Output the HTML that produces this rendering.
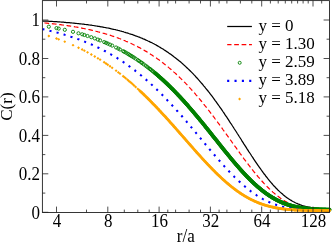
<!DOCTYPE html>
<html><head><meta charset="utf-8"><title>C(r)</title>
<style>html,body{margin:0;padding:0;background:#fff}body{width:332px;height:243px;overflow:hidden}svg{display:block}svg{will-change:transform}text{font-family:"Liberation Serif",serif;font-size:17px;fill:#000}</style></head><body>
<svg width="332" height="243" viewBox="0 0 332 243">
<rect width="332" height="243" fill="#fff"/>
<path d="M42.4,20.9 L43.4,21.0 L44.3,21.0 L45.3,21.1 L46.2,21.1 L47.2,21.2 L48.2,21.2 L49.1,21.3 L50.1,21.3 L51.0,21.4 L52.0,21.4 L53.0,21.5 L53.9,21.6 L54.9,21.6 L55.8,21.7 L56.8,21.7 L57.8,21.8 L58.7,21.9 L59.7,21.9 L60.6,22.0 L61.6,22.1 L62.6,22.2 L63.5,22.2 L64.5,22.3 L65.4,22.4 L66.4,22.5 L67.4,22.5 L68.3,22.6 L69.3,22.7 L70.2,22.8 L71.2,22.9 L72.2,23.0 L73.1,23.1 L74.1,23.2 L75.0,23.3 L76.0,23.4 L77.0,23.5 L77.9,23.6 L78.9,23.7 L79.8,23.8 L80.8,23.9 L81.8,24.0 L82.7,24.1 L83.7,24.2 L84.6,24.3 L85.6,24.5 L86.6,24.6 L87.5,24.7 L88.5,24.8 L89.4,25.0 L90.4,25.1 L91.4,25.2 L92.3,25.4 L93.3,25.5 L94.3,25.7 L95.2,25.8 L96.2,26.0 L97.1,26.1 L98.1,26.3 L99.1,26.4 L100.0,26.6 L101.0,26.8 L101.9,26.9 L102.9,27.1 L103.9,27.3 L104.8,27.5 L105.8,27.7 L106.7,27.8 L107.7,28.0 L108.7,28.2 L109.6,28.4 L110.6,28.6 L111.5,28.9 L112.5,29.1 L113.5,29.3 L114.4,29.5 L115.4,29.7 L116.3,30.0 L117.3,30.2 L118.3,30.5 L119.2,30.7 L120.2,31.0 L121.1,31.2 L122.1,31.5 L123.1,31.7 L124.0,32.0 L125.0,32.3 L125.9,32.6 L126.9,32.9 L127.9,33.2 L128.8,33.5 L129.8,33.8 L130.7,34.1 L131.7,34.4 L132.7,34.7 L133.6,35.1 L134.6,35.4 L135.5,35.8 L136.5,36.1 L137.5,36.5 L138.4,36.9 L139.4,37.2 L140.3,37.6 L141.3,38.0 L142.3,38.4 L143.2,38.8 L144.2,39.2 L145.1,39.6 L146.1,40.1 L147.1,40.5 L148.0,41.0 L149.0,41.4 L149.9,41.9 L150.9,42.3 L151.9,42.8 L152.8,43.3 L153.8,43.8 L154.7,44.3 L155.7,44.8 L156.7,45.4 L157.6,45.9 L158.6,46.5 L159.5,47.0 L160.5,47.6 L161.5,48.2 L162.4,48.7 L163.4,49.3 L164.3,50.0 L165.3,50.6 L166.3,51.2 L167.2,51.9 L168.2,52.5 L169.1,53.2 L170.1,53.9 L171.1,54.5 L172.0,55.2 L173.0,56.0 L173.9,56.7 L174.9,57.4 L175.9,58.2 L176.8,58.9 L177.8,59.7 L178.7,60.5 L179.7,61.3 L180.7,62.1 L181.6,62.9 L182.6,63.8 L183.5,64.6 L184.5,65.5 L185.5,66.4 L186.4,67.3 L187.4,68.2 L188.4,69.1 L189.3,70.0 L190.3,71.0 L191.2,71.9 L192.2,72.9 L193.2,73.9 L194.1,74.9 L195.1,75.9 L196.0,77.0 L197.0,78.0 L198.0,79.1 L198.9,80.2 L199.9,81.3 L200.8,82.4 L201.8,83.5 L202.8,84.6 L203.7,85.8 L204.7,86.9 L205.6,88.1 L206.6,89.3 L207.6,90.5 L208.5,91.7 L209.5,92.9 L210.4,94.2 L211.4,95.4 L212.4,96.7 L213.3,98.0 L214.3,99.3 L215.2,100.6 L216.2,101.9 L217.2,103.3 L218.1,104.6 L219.1,106.0 L220.0,107.3 L221.0,108.7 L222.0,110.1 L222.9,111.5 L223.9,112.9 L224.8,114.4 L225.8,115.8 L226.8,117.2 L227.7,118.7 L228.7,120.1 L229.6,121.6 L230.6,123.1 L231.6,124.5 L232.5,126.0 L233.5,127.5 L234.4,129.0 L235.4,130.5 L236.4,132.0 L237.3,133.5 L238.3,135.0 L239.2,136.5 L240.2,138.0 L241.2,139.5 L242.1,141.1 L243.1,142.6 L244.0,144.1 L245.0,145.6 L246.0,147.1 L246.9,148.6 L247.9,150.1 L248.8,151.6 L249.8,153.0 L250.8,154.5 L251.7,156.0 L252.7,157.4 L253.6,158.9 L254.6,160.3 L255.6,161.8 L256.5,163.2 L257.5,164.6 L258.4,166.0 L259.4,167.3 L260.4,168.7 L261.3,170.0 L262.3,171.4 L263.2,172.7 L264.2,174.0 L265.2,175.2 L266.1,176.5 L267.1,177.7 L268.0,178.9 L269.0,180.1 L270.0,181.3 L270.9,182.4 L271.9,183.5 L272.8,184.6 L273.8,185.7 L274.8,186.7 L275.7,187.7 L276.7,188.7 L277.6,189.7 L278.6,190.6 L279.6,191.6 L280.5,192.4 L281.5,193.3 L282.5,194.1 L283.4,194.9 L284.4,195.7 L285.3,196.5 L286.3,197.2 L287.3,197.9 L288.2,198.6 L289.2,199.2 L290.1,199.8 L291.1,200.4 L292.1,201.0 L293.0,201.5 L294.0,202.0 L294.9,202.5 L295.9,203.0 L296.9,203.4 L297.8,203.8 L298.8,204.2 L299.7,204.6 L300.7,204.9 L301.7,205.3 L302.6,205.6 L303.6,205.9 L304.5,206.1 L305.5,206.4 L306.5,206.6 L307.4,206.8 L308.4,207.0 L309.3,207.2 L310.3,207.4 L311.3,207.6 L312.2,207.7 L313.2,207.8 L314.1,208.0 L315.1,208.1 L316.1,208.2 L317.0,208.3 L318.0,208.4 L318.9,208.4 L319.9,208.5 L320.9,208.6 L321.8,208.6 L322.8,208.7 L323.7,208.7 L324.7,208.8 L325.7,208.8 L326.6,208.8 L327.6,208.8 L328.5,208.9 L329.5,208.9" fill="none" stroke="#000" stroke-width="1.25"/>
<path d="M42.4,22.7 L43.4,22.8 L44.3,22.9 L45.3,23.0 L46.2,23.1 L47.2,23.2 L48.2,23.3 L49.1,23.4 L50.1,23.5 L51.0,23.6 L52.0,23.7 L53.0,23.8 L53.9,23.9 L54.9,24.0 L55.8,24.1 L56.8,24.2 L57.8,24.3 L58.7,24.5 L59.7,24.6 L60.6,24.7 L61.6,24.8 L62.6,25.0 L63.5,25.1 L64.5,25.2 L65.4,25.4 L66.4,25.5 L67.4,25.6 L68.3,25.8 L69.3,25.9 L70.2,26.1 L71.2,26.2 L72.2,26.4 L73.1,26.5 L74.1,26.7 L75.0,26.9 L76.0,27.0 L77.0,27.2 L77.9,27.4 L78.9,27.5 L79.8,27.7 L80.8,27.9 L81.8,28.1 L82.7,28.3 L83.7,28.5 L84.6,28.7 L85.6,28.8 L86.6,29.0 L87.5,29.3 L88.5,29.5 L89.4,29.7 L90.4,29.9 L91.4,30.1 L92.3,30.3 L93.3,30.6 L94.3,30.8 L95.2,31.0 L96.2,31.3 L97.1,31.5 L98.1,31.8 L99.1,32.0 L100.0,32.3 L101.0,32.5 L101.9,32.8 L102.9,33.1 L103.9,33.3 L104.8,33.6 L105.8,33.9 L106.7,34.2 L107.7,34.5 L108.7,34.8 L109.6,35.1 L110.6,35.4 L111.5,35.7 L112.5,36.1 L113.5,36.4 L114.4,36.7 L115.4,37.1 L116.3,37.4 L117.3,37.7 L118.3,38.1 L119.2,38.5 L120.2,38.8 L121.1,39.2 L122.1,39.6 L123.1,40.0 L124.0,40.4 L125.0,40.8 L125.9,41.2 L126.9,41.6 L127.9,42.0 L128.8,42.4 L129.8,42.9 L130.7,43.3 L131.7,43.8 L132.7,44.2 L133.6,44.7 L134.6,45.2 L135.5,45.6 L136.5,46.1 L137.5,46.6 L138.4,47.1 L139.4,47.6 L140.3,48.1 L141.3,48.7 L142.3,49.2 L143.2,49.7 L144.2,50.3 L145.1,50.9 L146.1,51.4 L147.1,52.0 L148.0,52.6 L149.0,53.2 L149.9,53.8 L150.9,54.4 L151.9,55.0 L152.8,55.7 L153.8,56.3 L154.7,56.9 L155.7,57.6 L156.7,58.3 L157.6,59.0 L158.6,59.6 L159.5,60.3 L160.5,61.1 L161.5,61.8 L162.4,62.5 L163.4,63.2 L164.3,64.0 L165.3,64.8 L166.3,65.5 L167.2,66.3 L168.2,67.1 L169.1,67.9 L170.1,68.7 L171.1,69.5 L172.0,70.4 L173.0,71.2 L173.9,72.1 L174.9,72.9 L175.9,73.8 L176.8,74.7 L177.8,75.6 L178.7,76.5 L179.7,77.5 L180.7,78.4 L181.6,79.3 L182.6,80.3 L183.5,81.3 L184.5,82.2 L185.5,83.2 L186.4,84.2 L187.4,85.2 L188.4,86.3 L189.3,87.3 L190.3,88.3 L191.2,89.4 L192.2,90.5 L193.2,91.5 L194.1,92.6 L195.1,93.7 L196.0,94.8 L197.0,95.9 L198.0,97.1 L198.9,98.2 L199.9,99.4 L200.8,100.5 L201.8,101.7 L202.8,102.9 L203.7,104.1 L204.7,105.3 L205.6,106.5 L206.6,107.7 L207.6,108.9 L208.5,110.1 L209.5,111.4 L210.4,112.6 L211.4,113.9 L212.4,115.1 L213.3,116.4 L214.3,117.7 L215.2,119.0 L216.2,120.3 L217.2,121.6 L218.1,122.9 L219.1,124.2 L220.0,125.5 L221.0,126.8 L222.0,128.1 L222.9,129.5 L223.9,130.8 L224.8,132.1 L225.8,133.5 L226.8,134.8 L227.7,136.1 L228.7,137.5 L229.6,138.8 L230.6,140.2 L231.6,141.5 L232.5,142.9 L233.5,144.2 L234.4,145.6 L235.4,146.9 L236.4,148.2 L237.3,149.6 L238.3,150.9 L239.2,152.2 L240.2,153.6 L241.2,154.9 L242.1,156.2 L243.1,157.5 L244.0,158.8 L245.0,160.1 L246.0,161.4 L246.9,162.6 L247.9,163.9 L248.8,165.2 L249.8,166.4 L250.8,167.7 L251.7,168.9 L252.7,170.1 L253.6,171.3 L254.6,172.5 L255.6,173.7 L256.5,174.8 L257.5,176.0 L258.4,177.1 L259.4,178.2 L260.4,179.3 L261.3,180.4 L262.3,181.5 L263.2,182.5 L264.2,183.6 L265.2,184.6 L266.1,185.6 L267.1,186.6 L268.0,187.5 L269.0,188.5 L270.0,189.4 L270.9,190.3 L271.9,191.2 L272.8,192.1 L273.8,192.9 L274.8,193.7 L275.7,194.5 L276.7,195.3 L277.6,196.1 L278.6,196.8 L279.6,197.5 L280.5,198.2 L281.5,198.9 L282.5,199.5 L283.4,200.2 L284.4,200.8 L285.3,201.4 L286.3,201.9 L287.3,202.5 L288.2,203.0 L289.2,203.5 L290.1,204.0 L291.1,204.5 L292.1,204.9 L293.0,205.3 L294.0,205.7 L294.9,206.1 L295.9,206.5 L296.9,206.9 L297.8,207.2 L298.8,207.5 L299.7,207.8 L300.7,208.1 L301.7,208.4 L302.6,208.6 L303.6,208.9 L304.5,209.1 L305.5,209.3 L306.5,209.5 L307.4,209.7 L308.4,209.9 L309.3,210.1 L310.3,210.2 L311.3,210.4 L312.2,210.5 L313.2,210.6 L314.1,210.7 L315.1,210.8 L316.1,210.9 L317.0,211.0 L318.0,211.1 L318.9,211.2 L319.9,211.3 L320.9,211.3 L321.8,211.4 L322.8,211.4 L323.7,211.5 L324.7,211.5 L325.7,211.6 L326.6,211.6 L327.6,211.6 L328.5,211.7 L329.5,211.7" fill="none" stroke="#f00" stroke-width="1.2" stroke-dasharray="4.7 2.7" stroke-dashoffset="5.3"/>
<path d="M155.0,73.1 L155.6,73.5 L156.2,74.0 L156.8,74.5 L157.3,75.0 L157.9,75.5 L158.5,76.0 L159.1,76.5 L159.7,77.1 L160.3,77.6 L160.8,78.1 L161.4,78.6 L162.0,79.1 L162.6,79.7 L163.2,80.2 L163.8,80.7 L164.3,81.3 L164.9,81.8 L165.5,82.4 L166.1,82.9 L166.7,83.5 L167.3,84.0 L167.8,84.6 L168.4,85.1 L169.0,85.7 L169.6,86.3 L170.2,86.8 L170.8,87.4 L171.3,88.0 L171.9,88.6 L172.5,89.2 L173.1,89.7 L173.7,90.3 L174.3,90.9 L174.8,91.5 L175.4,92.1 L176.0,92.7 L176.6,93.3 L177.2,93.9 L177.8,94.6 L178.3,95.2 L178.9,95.8 L179.5,96.4 L180.1,97.0 L180.7,97.7 L181.3,98.3 L181.8,98.9 L182.4,99.6 L183.0,100.2 L183.6,100.8 L184.2,101.5 L184.8,102.1 L185.3,102.8 L185.9,103.4 L186.5,104.1 L187.1,104.8 L187.7,105.4 L188.3,106.1 L188.8,106.8 L189.4,107.4 L190.0,108.1 L190.6,108.8 L191.2,109.4 L191.8,110.1 L192.4,110.8 L192.9,111.5 L193.5,112.2 L194.1,112.9 L194.7,113.6 L195.3,114.3 L195.9,115.0 L196.4,115.6 L197.0,116.3 L197.6,117.1 L198.2,117.8 L198.8,118.5 L199.4,119.2 L199.9,119.9 L200.5,120.6 L201.1,121.3 L201.7,122.0 L202.3,122.7 L202.9,123.4 L203.4,124.2 L204.0,124.9 L204.6,125.6 L205.2,126.3 L205.8,127.1 L206.4,127.8 L206.9,128.5 L207.5,129.2 L208.1,130.0 L208.7,130.7 L209.3,131.4 L209.9,132.1 L210.4,132.9 L211.0,133.6 L211.6,134.3 L212.2,135.1 L212.8,135.8 L213.4,136.5 L213.9,137.3 L214.5,138.0 L215.1,138.7 L215.7,139.5 L216.3,140.2 L216.9,140.9 L217.4,141.7 L218.0,142.4 L218.6,143.1 L219.2,143.9 L219.8,144.6 L220.4,145.3 L220.9,146.1 L221.5,146.8 L222.1,147.5 L222.7,148.3 L223.3,149.0 L223.9,149.7 L224.4,150.4 L225.0,151.2 L225.6,151.9 L226.2,152.6 L226.8,153.3 L227.4,154.0 L228.0,154.8 L228.5,155.5 L229.1,156.2 L229.7,156.9 L230.3,157.6 L230.9,158.3 L231.5,159.0 L232.0,159.7 L232.6,160.4 L233.2,161.1 L233.8,161.8 L234.4,162.5 L235.0,163.2 L235.5,163.8 L236.1,164.5 L236.7,165.2 L237.3,165.9 L237.9,166.5 L238.5,167.2 L239.0,167.9 L239.6,168.5 L240.2,169.2 L240.8,169.8 L241.4,170.5 L242.0,171.1 L242.5,171.8 L243.1,172.4 L243.7,173.1 L244.3,173.7 L244.9,174.3 L245.5,174.9 L246.0,175.5 L246.6,176.1 L247.2,176.8 L247.8,177.4 L248.4,178.0 L249.0,178.5 L249.5,179.1 L250.1,179.7 L250.7,180.3 L251.3,180.9 L251.9,181.4 L252.5,182.0 L253.0,182.5 L253.6,183.1 L254.2,183.6 L254.8,184.2 L255.4,184.7 L256.0,185.2 L256.5,185.7 L257.1,186.3 L257.7,186.8 L258.3,187.3 L258.9,187.8 L259.5,188.3 L260.1,188.7 L260.6,189.2 L261.2,189.7 L261.8,190.2 L262.4,190.6 L263.0,191.1 L263.6,191.5 L264.1,192.0 L264.7,192.4 L265.3,192.8 L265.9,193.3 L266.5,193.7 L267.1,194.1 L267.6,194.5 L268.2,194.9 L268.8,195.3 L269.4,195.7 L270.0,196.1 L270.6,196.4 L271.1,196.8 L271.7,197.2 L272.3,197.5 L272.9,197.9 L273.5,198.2 L274.1,198.5 L274.6,198.9 L275.2,199.2 L275.8,199.5 L276.4,199.8 L277.0,200.1 L277.6,200.4 L278.1,200.7 L278.7,201.0 L279.3,201.3 L279.9,201.5 L280.5,201.8 L281.1,202.1 L281.6,202.3 L282.2,202.6 L282.8,202.8 L283.4,203.0 L284.0,203.3 L284.6,203.5 L285.1,203.7 L285.7,203.9 L286.3,204.1 L286.9,204.3 L287.5,204.5 L288.1,204.7 L288.6,204.9 L289.2,205.1 L289.8,205.3 L290.4,205.5 L291.0,205.6 L291.6,205.8 L292.1,206.0 L292.7,206.1 L293.3,206.3 L293.9,206.4 L294.5,206.5 L295.1,206.7 L295.7,206.8 L296.2,206.9 L296.8,207.1 L297.4,207.2 L298.0,207.3 L298.6,207.4 L299.2,207.5 L299.7,207.6 L300.3,207.7 L300.9,207.8 L301.5,207.9 L302.1,208.0 L302.7,208.1 L303.2,208.2 L303.8,208.2 L304.4,208.3 L305.0,208.4 L305.6,208.5 L306.2,208.5 L306.7,208.6 L307.3,208.7 L307.9,208.7 L308.5,208.8 L309.1,208.8 L309.7,208.9 L310.2,208.9 L310.8,209.0 L311.4,209.0 L312.0,209.1 L312.6,209.1 L313.2,209.1 L313.7,209.2 L314.3,209.2 L314.9,209.3 L315.5,209.3 L316.1,209.3 L316.7,209.3 L317.2,209.4 L317.8,209.4 L318.4,209.4 L319.0,209.5 L319.6,209.5 L320.2,209.5 L320.7,209.5 L321.3,209.5 L321.9,209.6 L322.5,209.6 L323.1,209.6 L323.7,209.6 L324.2,209.6 L324.8,209.6 L325.4,209.6 L326.0,209.7 L326.6,209.7 L327.2,209.7 L327.7,209.7 L328.3,209.7 L328.9,209.7 L329.5,209.7" fill="none" stroke="#008000" stroke-width="3.6" stroke-linecap="round"/>
<g fill="none" stroke="#008000" stroke-width="0.9"><circle cx="48.8" cy="26.7" r="1.6"/><circle cx="56.5" cy="28.1" r="1.6"/><circle cx="58.7" cy="28.6" r="1.6"/><circle cx="64.8" cy="29.8" r="1.6"/><circle cx="73.0" cy="31.8" r="1.6"/><circle cx="78.5" cy="33.3" r="1.6"/><circle cx="82.2" cy="34.3" r="1.6"/><circle cx="84.4" cy="35.0" r="1.6"/><circle cx="87.5" cy="36.0" r="1.6"/><circle cx="91.3" cy="37.2" r="1.6"/><circle cx="94.8" cy="38.4" r="1.6"/><circle cx="97.9" cy="39.6" r="1.6"/><circle cx="100.1" cy="40.4" r="1.6"/><circle cx="104.2" cy="42.1" r="1.6"/><circle cx="106.0" cy="42.8" r="1.6"/><circle cx="107.8" cy="43.6" r="1.6"/><circle cx="110.0" cy="44.6" r="1.6"/><circle cx="112.2" cy="45.6" r="1.6"/><circle cx="116.1" cy="47.5" r="1.6"/><circle cx="118.3" cy="48.6" r="1.6"/><circle cx="120.0" cy="49.5" r="1.6"/><circle cx="123.2" cy="51.2" r="1.6"/><circle cx="124.3" cy="51.8" r="1.6"/><circle cx="125.8" cy="52.6" r="1.6"/><circle cx="127.5" cy="53.6" r="1.6"/><circle cx="128.8" cy="54.4" r="1.6"/><circle cx="130.1" cy="55.2" r="1.6"/><circle cx="131.4" cy="56.0" r="1.6"/><circle cx="132.6" cy="56.7" r="1.6"/><circle cx="134.0" cy="57.6" r="1.6"/><circle cx="135.7" cy="58.7" r="1.6"/><circle cx="137.8" cy="60.1" r="1.6"/><circle cx="139.1" cy="61.0" r="1.6"/><circle cx="141.0" cy="62.3" r="1.6"/><circle cx="142.2" cy="63.1" r="1.6"/><circle cx="143.7" cy="64.3" r="1.6"/><circle cx="145.7" cy="65.7" r="1.6"/><circle cx="147.1" cy="66.8" r="1.6"/><circle cx="148.6" cy="68.0" r="1.6"/><circle cx="150.0" cy="69.0" r="1.6"/><circle cx="150.9" cy="69.7" r="1.6"/><circle cx="152.1" cy="70.7" r="1.6"/><circle cx="153.2" cy="71.5" r="1.6"/><circle cx="154.3" cy="72.5" r="1.6"/><circle cx="155.5" cy="73.4" r="1.6"/><circle cx="156.9" cy="74.6" r="1.6"/><circle cx="158.2" cy="75.8" r="1.6"/><circle cx="159.1" cy="76.6" r="1.6"/><circle cx="160.4" cy="77.7" r="1.6"/><circle cx="161.3" cy="78.5" r="1.6"/><circle cx="162.5" cy="79.6" r="1.6"/><circle cx="163.5" cy="80.5" r="1.6"/><circle cx="164.5" cy="81.4" r="1.6"/><circle cx="165.6" cy="82.4" r="1.6"/><circle cx="166.5" cy="83.3" r="1.6"/><circle cx="167.4" cy="84.1" r="1.6"/><circle cx="168.3" cy="85.0" r="1.6"/><circle cx="169.3" cy="86.0" r="1.6"/><circle cx="170.2" cy="86.9" r="1.6"/><circle cx="171.3" cy="88.0" r="1.6"/><circle cx="172.2" cy="88.9" r="1.6"/><circle cx="173.0" cy="89.7" r="1.6"/><circle cx="174.3" cy="91.0" r="1.6"/><circle cx="175.3" cy="92.0" r="1.6"/><circle cx="176.4" cy="93.2" r="1.6"/><circle cx="177.5" cy="94.3" r="1.6"/><circle cx="178.5" cy="95.4" r="1.6"/><circle cx="179.6" cy="96.5" r="1.6"/><circle cx="180.5" cy="97.5" r="1.6"/><circle cx="181.4" cy="98.5" r="1.6"/><circle cx="182.4" cy="99.6" r="1.6"/><circle cx="183.4" cy="100.6" r="1.6"/><circle cx="184.2" cy="101.6" r="1.6"/><circle cx="185.3" cy="102.8" r="1.6"/><circle cx="186.2" cy="103.8" r="1.6"/><circle cx="187.1" cy="104.7" r="1.6"/><circle cx="187.9" cy="105.6" r="1.6"/><circle cx="189.1" cy="107.1" r="1.6"/><circle cx="190.1" cy="108.2" r="1.6"/><circle cx="190.9" cy="109.2" r="1.6"/><circle cx="192.1" cy="110.6" r="1.6"/><circle cx="193.0" cy="111.6" r="1.6"/><circle cx="193.9" cy="112.7" r="1.6"/><circle cx="194.9" cy="113.8" r="1.6"/><circle cx="195.7" cy="114.8" r="1.6"/><circle cx="196.6" cy="115.9" r="1.6"/><circle cx="197.5" cy="116.9" r="1.6"/><circle cx="198.3" cy="117.9" r="1.6"/><circle cx="199.2" cy="119.0" r="1.6"/><circle cx="200.1" cy="120.1" r="1.6"/><circle cx="200.9" cy="121.1" r="1.6"/><circle cx="202.1" cy="122.5" r="1.6"/><circle cx="203.1" cy="123.8" r="1.6"/><circle cx="204.2" cy="125.0" r="1.6"/><circle cx="205.0" cy="126.0" r="1.6"/><circle cx="205.8" cy="127.1" r="1.6"/><circle cx="206.6" cy="128.1" r="1.6"/><circle cx="207.6" cy="129.3" r="1.6"/><circle cx="208.4" cy="130.3" r="1.6"/><circle cx="209.4" cy="131.6" r="1.6"/><circle cx="210.3" cy="132.7" r="1.6"/><circle cx="211.1" cy="133.7" r="1.6"/><circle cx="212.0" cy="134.8" r="1.6"/><circle cx="212.8" cy="135.9" r="1.6"/><circle cx="213.6" cy="136.9" r="1.6"/><circle cx="214.5" cy="138.0" r="1.6"/><circle cx="215.4" cy="139.1" r="1.6"/><circle cx="216.3" cy="140.2" r="1.6"/><circle cx="217.2" cy="141.3" r="1.6"/><circle cx="218.0" cy="142.3" r="1.6"/><circle cx="218.8" cy="143.4" r="1.6"/><circle cx="219.6" cy="144.4" r="1.6"/><circle cx="220.5" cy="145.5" r="1.6"/><circle cx="221.4" cy="146.6" r="1.6"/><circle cx="222.2" cy="147.7" r="1.6"/><circle cx="223.0" cy="148.7" r="1.6"/><circle cx="223.9" cy="149.8" r="1.6"/><circle cx="224.8" cy="150.9" r="1.6"/><circle cx="225.7" cy="152.0" r="1.6"/><circle cx="226.6" cy="153.1" r="1.6"/><circle cx="227.4" cy="154.0" r="1.6"/><circle cx="228.2" cy="155.1" r="1.6"/><circle cx="229.1" cy="156.1" r="1.6"/><circle cx="230.0" cy="157.2" r="1.6"/><circle cx="230.8" cy="158.2" r="1.6"/><circle cx="231.6" cy="159.2" r="1.6"/><circle cx="232.4" cy="160.2" r="1.6"/><circle cx="233.3" cy="161.2" r="1.6"/><circle cx="234.1" cy="162.2" r="1.6"/><circle cx="235.0" cy="163.2" r="1.6"/><circle cx="235.8" cy="164.1" r="1.6"/><circle cx="236.6" cy="165.1" r="1.6"/><circle cx="237.5" cy="166.1" r="1.6"/><circle cx="238.3" cy="167.0" r="1.6"/><circle cx="239.1" cy="168.0" r="1.6"/><circle cx="240.0" cy="168.9" r="1.6"/><circle cx="240.8" cy="169.9" r="1.6"/><circle cx="241.6" cy="170.8" r="1.6"/><circle cx="242.4" cy="171.7" r="1.6"/><circle cx="243.3" cy="172.6" r="1.6"/><circle cx="244.1" cy="173.5" r="1.6"/><circle cx="245.0" cy="174.4" r="1.6"/><circle cx="245.8" cy="175.3" r="1.6"/><circle cx="246.6" cy="176.1" r="1.6"/><circle cx="247.4" cy="177.0" r="1.6"/><circle cx="248.3" cy="177.8" r="1.6"/><circle cx="249.1" cy="178.7" r="1.6"/><circle cx="249.9" cy="179.5" r="1.6"/><circle cx="250.8" cy="180.3" r="1.6"/><circle cx="251.6" cy="181.2" r="1.6"/><circle cx="252.5" cy="182.0" r="1.6"/><circle cx="253.3" cy="182.8" r="1.6"/><circle cx="254.1" cy="183.5" r="1.6"/><circle cx="254.9" cy="184.3" r="1.6"/><circle cx="255.8" cy="185.0" r="1.6"/><circle cx="256.6" cy="185.8" r="1.6"/><circle cx="257.5" cy="186.6" r="1.6"/><circle cx="258.3" cy="187.2" r="1.6"/><circle cx="259.1" cy="187.9" r="1.6"/><circle cx="259.9" cy="188.6" r="1.6"/><circle cx="260.8" cy="189.3" r="1.6"/><circle cx="261.6" cy="190.0" r="1.6"/><circle cx="262.4" cy="190.7" r="1.6"/><circle cx="263.3" cy="191.3" r="1.6"/><circle cx="264.1" cy="191.9" r="1.6"/><circle cx="264.9" cy="192.6" r="1.6"/><circle cx="265.8" cy="193.2" r="1.6"/><circle cx="266.6" cy="193.8" r="1.6"/><circle cx="267.4" cy="194.3" r="1.6"/><circle cx="268.2" cy="194.9" r="1.6"/><circle cx="269.0" cy="195.4" r="1.6"/><circle cx="269.8" cy="196.0" r="1.6"/><circle cx="270.7" cy="196.5" r="1.6"/><circle cx="271.5" cy="197.0" r="1.6"/><circle cx="272.3" cy="197.5" r="1.6"/><circle cx="273.1" cy="198.0" r="1.6"/><circle cx="273.9" cy="198.4" r="1.6"/><circle cx="274.7" cy="198.9" r="1.6"/><circle cx="275.5" cy="199.3" r="1.6"/><circle cx="276.3" cy="199.8" r="1.6"/><circle cx="277.1" cy="200.2" r="1.6"/><circle cx="277.9" cy="200.6" r="1.6"/><circle cx="278.8" cy="201.0" r="1.6"/><circle cx="279.6" cy="201.4" r="1.6"/><circle cx="280.4" cy="201.8" r="1.6"/><circle cx="281.2" cy="202.1" r="1.6"/><circle cx="282.0" cy="202.5" r="1.6"/><circle cx="282.8" cy="202.8" r="1.6"/><circle cx="283.6" cy="203.1" r="1.6"/><circle cx="284.5" cy="203.5" r="1.6"/><circle cx="285.3" cy="203.8" r="1.6"/><circle cx="286.1" cy="204.1" r="1.6"/><circle cx="286.9" cy="204.4" r="1.6"/><circle cx="287.7" cy="204.6" r="1.6"/><circle cx="288.5" cy="204.9" r="1.6"/><circle cx="289.3" cy="205.1" r="1.6"/><circle cx="290.1" cy="205.4" r="1.6"/><circle cx="290.9" cy="205.6" r="1.6"/><circle cx="291.8" cy="205.8" r="1.6"/><circle cx="292.6" cy="206.1" r="1.6"/><circle cx="293.4" cy="206.3" r="1.6"/><circle cx="294.2" cy="206.5" r="1.6"/><circle cx="295.0" cy="206.7" r="1.6"/><circle cx="295.8" cy="206.8" r="1.6"/><circle cx="296.6" cy="207.0" r="1.6"/><circle cx="297.5" cy="207.2" r="1.6"/><circle cx="298.3" cy="207.3" r="1.6"/><circle cx="299.1" cy="207.5" r="1.6"/><circle cx="299.9" cy="207.6" r="1.6"/><circle cx="300.7" cy="207.8" r="1.6"/><circle cx="301.5" cy="207.9" r="1.6"/><circle cx="302.3" cy="208.0" r="1.6"/><circle cx="303.1" cy="208.1" r="1.6"/><circle cx="303.9" cy="208.2" r="1.6"/><circle cx="304.7" cy="208.4" r="1.6"/><circle cx="305.5" cy="208.5" r="1.6"/><circle cx="306.3" cy="208.5" r="1.6"/><circle cx="307.2" cy="208.6" r="1.6"/><circle cx="308.0" cy="208.7" r="1.6"/><circle cx="308.8" cy="208.8" r="1.6"/><circle cx="309.6" cy="208.9" r="1.6"/><circle cx="310.4" cy="208.9" r="1.6"/><circle cx="311.2" cy="209.0" r="1.6"/><circle cx="312.0" cy="209.1" r="1.6"/><circle cx="312.8" cy="209.1" r="1.6"/><circle cx="313.7" cy="209.2" r="1.6"/><circle cx="314.5" cy="209.2" r="1.6"/><circle cx="315.3" cy="209.3" r="1.6"/><circle cx="316.1" cy="209.3" r="1.6"/><circle cx="316.9" cy="209.4" r="1.6"/><circle cx="317.7" cy="209.4" r="1.6"/><circle cx="318.5" cy="209.4" r="1.6"/><circle cx="319.3" cy="209.5" r="1.6"/><circle cx="320.1" cy="209.5" r="1.6"/><circle cx="320.9" cy="209.5" r="1.6"/><circle cx="321.7" cy="209.5" r="1.6"/><circle cx="322.5" cy="209.6" r="1.6"/><circle cx="323.3" cy="209.6" r="1.6"/><circle cx="324.1" cy="209.6" r="1.6"/><circle cx="324.9" cy="209.6" r="1.6"/><circle cx="325.7" cy="209.6" r="1.6"/><circle cx="326.5" cy="209.7" r="1.6"/><circle cx="327.3" cy="209.7" r="1.6"/><circle cx="328.1" cy="209.7" r="1.6"/><circle cx="328.9" cy="209.7" r="1.6"/><circle cx="329.5" cy="209.7" r="1.6"/></g>
<path d="M42.4,29.1 L43.3,29.3 L44.1,29.5 L45.0,29.7 L45.8,29.9 L46.7,30.1 L47.6,30.3 L48.4,30.5 L49.3,30.7 L50.2,30.9 L51.0,31.1 L51.9,31.3 L52.7,31.5 L53.6,31.7 L54.5,31.9 L55.3,32.2 L56.2,32.4 L57.0,32.6 L57.9,32.8 L58.8,33.1 L59.6,33.3 L60.5,33.5 L61.4,33.8 L62.2,34.0 L63.1,34.3 L63.9,34.5 L64.8,34.8 L65.7,35.0 L66.5,35.3 L67.4,35.6 L68.2,35.8 L69.1,36.1 L70.0,36.4 L70.8,36.7 L71.7,36.9 L72.6,37.2 L73.4,37.5 L74.3,37.8 L75.1,38.1 L76.0,38.4 L76.9,38.7 L77.7,39.0 L78.6,39.3 L79.4,39.7 L80.3,40.0 L81.2,40.3 L82.0,40.6 L82.9,41.0 L83.8,41.3 L84.6,41.6 L85.5,42.0 L86.3,42.3 L87.2,42.7 L88.1,43.0 L88.9,43.4 L89.8,43.8 L90.6,44.2 L91.5,44.5 L92.4,44.9 L93.2,45.3 L94.1,45.7 L95.0,46.1 L95.8,46.5 L96.7,46.9 L97.5,47.3 L98.4,47.7 L99.3,48.1 L100.1,48.6 L101.0,49.0 L101.8,49.4 L102.7,49.9 L103.6,50.3 L104.4,50.8 L105.3,51.2 L106.2,51.7 L107.0,52.2 L107.9,52.6 L108.7,53.1 L109.6,53.6 L110.5,54.1 L111.3,54.6 L112.2,55.1 L113.0,55.6 L113.9,56.1 L114.8,56.6 L115.6,57.1 L116.5,57.7 L117.4,58.2 L118.2,58.8 L119.1,59.3 L119.9,59.9 L120.8,60.4 L121.7,61.0 L122.5,61.6 L123.4,62.1 L124.2,62.7 L125.1,63.3 L126.0,63.9 L126.8,64.5 L127.7,65.1 L128.6,65.7 L129.4,66.4 L130.3,67.0 L131.1,67.6 L132.0,68.3 L132.9,68.9 L133.7,69.6 L134.6,70.2 L135.4,70.9 L136.3,71.6 L137.2,72.2 L138.0,72.9 L138.9,73.6 L139.8,74.3 L140.6,75.0 L141.5,75.7 L142.3,76.5 L143.2,77.2 L144.1,77.9 L144.9,78.7 L145.8,79.4 L146.6,80.2 L147.5,80.9 L148.4,81.7 L149.2,82.5 L150.1,83.2 L151.0,84.0 L151.8,84.8 L152.7,85.6 L153.5,86.4 L154.4,87.2 L155.3,88.0 L156.1,88.9 L157.0,89.7 L157.8,90.5 L158.7,91.4 L159.6,92.2 L160.4,93.1 L161.3,93.9 L162.2,94.8 L163.0,95.7 L163.9,96.6 L164.7,97.5 L165.6,98.4 L166.5,99.2 L167.3,100.2 L168.2,101.1 L169.0,102.0 L169.9,102.9 L170.8,103.8 L171.6,104.8 L172.5,105.7 L173.4,106.6 L174.2,107.6 L175.1,108.5 L175.9,109.5 L176.8,110.5 L177.7,111.4 L178.5,112.4 L179.4,113.4 L180.2,114.4 L181.1,115.3 L182.0,116.3 L182.8,117.3 L183.7,118.3 L184.6,119.3 L185.4,120.3 L186.3,121.3 L187.1,122.3 L188.0,123.4 L188.9,124.4 L189.7,125.4 L190.6,126.4 L191.4,127.4 L192.3,128.5 L193.2,129.5 L194.0,130.5 L194.9,131.6 L195.8,132.6 L196.6,133.6 L197.5,134.7 L198.3,135.7 L199.2,136.7 L200.1,137.8 L200.9,138.8 L201.8,139.8 L202.6,140.9 L203.5,141.9 L204.4,143.0 L205.2,144.0 L206.1,145.0 L207.0,146.1 L207.8,147.1 L208.7,148.1 L209.5,149.2 L210.4,150.2 L211.3,151.2 L212.1,152.2 L213.0,153.2 L213.8,154.3 L214.7,155.3 L215.6,156.3 L216.4,157.3 L217.3,158.3 L218.2,159.3 L219.0,160.3 L219.9,161.2 L220.7,162.2 L221.6,163.2 L222.5,164.2 L223.3,165.1 L224.2,166.1 L225.0,167.0 L225.9,168.0 L226.8,168.9 L227.6,169.8 L228.5,170.8 L229.4,171.7 L230.2,172.6 L231.1,173.5 L231.9,174.4 L232.8,175.2 L233.7,176.1 L234.5,177.0 L235.4,177.8 L236.2,178.7 L237.1,179.5 L238.0,180.3 L238.8,181.1 L239.7,181.9 L240.6,182.7 L241.4,183.5 L242.3,184.3 L243.1,185.0 L244.0,185.8 L244.9,186.5 L245.7,187.2 L246.6,187.9 L247.4,188.6 L248.3,189.3 L249.2,190.0 L250.0,190.6 L250.9,191.3 L251.8,191.9 L252.6,192.6 L253.5,193.2 L254.3,193.8 L255.2,194.4 L256.1,194.9 L256.9,195.5 L257.8,196.1 L258.6,196.6 L259.5,197.1 L260.4,197.6 L261.2,198.1 L262.1,198.6 L263.0,199.1 L263.8,199.5 L264.7,200.0 L265.5,200.4 L266.4,200.9 L267.3,201.3 L268.1,201.7 L269.0,202.1 L269.8,202.4 L270.7,202.8 L271.6,203.2 L272.4,203.5 L273.3,203.8 L274.2,204.1 L275.0,204.5 L275.9,204.7 L276.7,205.0 L277.6,205.3 L278.5,205.6 L279.3,205.8 L280.2,206.1 L281.0,206.3 L281.9,206.5 L282.8,206.8 L283.6,207.0 L284.5,207.2 L285.4,207.3 L286.2,207.5 L287.1,207.7 L287.9,207.9 L288.8,208.0 L289.7,208.2 L290.5,208.3 L291.4,208.4 L292.2,208.6 L293.1,208.7 L294.0,208.8 L294.8,208.9 L295.7,209.0 L296.6,209.1 L297.4,209.2 L298.3,209.3 L299.1,209.4 L300.0,209.5" fill="none" stroke="#00f" stroke-width="2.1" stroke-dasharray="2.1 5.17" stroke-dashoffset="0"/>
<path d="M140.0,90.9 L140.6,91.5 L141.3,92.1 L141.9,92.7 L142.5,93.3 L143.2,93.9 L143.8,94.5 L144.4,95.1 L145.1,95.7 L145.7,96.4 L146.3,97.0 L147.0,97.6 L147.6,98.2 L148.2,98.9 L148.9,99.5 L149.5,100.1 L150.1,100.8 L150.8,101.4 L151.4,102.1 L152.0,102.7 L152.7,103.4 L153.3,104.0 L153.9,104.7 L154.6,105.3 L155.2,106.0 L155.8,106.6 L156.5,107.3 L157.1,108.0 L157.7,108.6 L158.4,109.3 L159.0,110.0 L159.6,110.7 L160.3,111.3 L160.9,112.0 L161.5,112.7 L162.2,113.4 L162.8,114.1 L163.4,114.8 L164.1,115.5 L164.7,116.1 L165.4,116.8 L166.0,117.5 L166.6,118.2 L167.3,118.9 L167.9,119.6 L168.5,120.3 L169.2,121.0 L169.8,121.8 L170.4,122.5 L171.1,123.2 L171.7,123.9 L172.3,124.6 L173.0,125.3 L173.6,126.0 L174.2,126.7 L174.9,127.4 L175.5,128.2 L176.1,128.9 L176.8,129.6 L177.4,130.3 L178.0,131.0 L178.7,131.8 L179.3,132.5 L179.9,133.2 L180.6,133.9 L181.2,134.7 L181.8,135.4 L182.5,136.1 L183.1,136.8 L183.7,137.6 L184.4,138.3 L185.0,139.0 L185.6,139.7 L186.3,140.5 L186.9,141.2 L187.5,141.9 L188.2,142.6 L188.8,143.3 L189.4,144.1 L190.1,144.8 L190.7,145.5 L191.3,146.2 L192.0,147.0 L192.6,147.7 L193.2,148.4 L193.9,149.1 L194.5,149.8 L195.1,150.5 L195.8,151.2 L196.4,152.0 L197.0,152.7 L197.7,153.4 L198.3,154.1 L198.9,154.8 L199.6,155.5 L200.2,156.2 L200.8,156.9 L201.5,157.6 L202.1,158.3 L202.7,159.0 L203.4,159.7 L204.0,160.4 L204.6,161.0 L205.3,161.7 L205.9,162.4 L206.5,163.1 L207.2,163.8 L207.8,164.4 L208.4,165.1 L209.1,165.8 L209.7,166.4 L210.3,167.1 L211.0,167.7 L211.6,168.4 L212.3,169.0 L212.9,169.7 L213.5,170.3 L214.2,171.0 L214.8,171.6 L215.4,172.2 L216.1,172.9 L216.7,173.5 L217.3,174.1 L218.0,174.7 L218.6,175.3 L219.2,175.9 L219.9,176.5 L220.5,177.1 L221.1,177.7 L221.8,178.3 L222.4,178.9 L223.0,179.5 L223.7,180.0 L224.3,180.6 L224.9,181.2 L225.6,181.7 L226.2,182.3 L226.8,182.8 L227.5,183.4 L228.1,183.9 L228.7,184.4 L229.4,185.0 L230.0,185.5 L230.6,186.0 L231.3,186.5 L231.9,187.0 L232.5,187.5 L233.2,188.0 L233.8,188.5 L234.4,189.0 L235.1,189.5 L235.7,189.9 L236.3,190.4 L237.0,190.8 L237.6,191.3 L238.2,191.7 L238.9,192.2 L239.5,192.6 L240.1,193.0 L240.8,193.5 L241.4,193.9 L242.0,194.3 L242.7,194.7 L243.3,195.1 L243.9,195.5 L244.6,195.9 L245.2,196.2 L245.8,196.6 L246.5,197.0 L247.1,197.4 L247.7,197.7 L248.4,198.1 L249.0,198.4 L249.6,198.7 L250.3,199.1 L250.9,199.4 L251.5,199.7 L252.2,200.0 L252.8,200.3 L253.4,200.6 L254.1,200.9 L254.7,201.2 L255.3,201.5 L256.0,201.8 L256.6,202.0 L257.2,202.3 L257.9,202.6 L258.5,202.8 L259.2,203.1 L259.8,203.3 L260.4,203.6 L261.1,203.8 L261.7,204.0 L262.3,204.2 L263.0,204.5 L263.6,204.7 L264.2,204.9 L264.9,205.1 L265.5,205.3 L266.1,205.5 L266.8,205.6 L267.4,205.8 L268.0,206.0 L268.7,206.2 L269.3,206.3 L269.9,206.5 L270.6,206.7 L271.2,206.8 L271.8,207.0 L272.5,207.1 L273.1,207.2 L273.7,207.4 L274.4,207.5 L275.0,207.6 L275.6,207.8 L276.3,207.9 L276.9,208.0 L277.5,208.1 L278.2,208.2 L278.8,208.3 L279.4,208.4 L280.1,208.5 L280.7,208.6 L281.3,208.7 L282.0,208.8 L282.6,208.9 L283.2,208.9 L283.9,209.0 L284.5,209.1 L285.1,209.2 L285.8,209.2 L286.4,209.3 L287.0,209.4 L287.7,209.4 L288.3,209.5 L288.9,209.5 L289.6,209.6 L290.2,209.6 L290.8,209.7 L291.5,209.7 L292.1,209.8 L292.7,209.8 L293.4,209.9 L294.0,209.9 L294.6,210.0 L295.3,210.0 L295.9,210.0 L296.5,210.1 L297.2,210.1 L297.8,210.1 L298.4,210.1 L299.1,210.2 L299.7,210.2 L300.3,210.2 L301.0,210.2 L301.6,210.3 L302.2,210.3 L302.9,210.3 L303.5,210.3 L304.1,210.3 L304.8,210.4 L305.4,210.4 L306.1,210.4 L306.7,210.4 L307.3,210.4 L308.0,210.4 L308.6,210.4 L309.2,210.4 L309.9,210.5 L310.5,210.5 L311.1,210.5 L311.8,210.5 L312.4,210.5 L313.0,210.5 L313.7,210.5 L314.3,210.5 L314.9,210.5 L315.6,210.5 L316.2,210.5 L316.8,210.5 L317.5,210.5 L318.1,210.5 L318.7,210.5 L319.4,210.6 L320.0,210.6 L320.6,210.6 L321.3,210.6 L321.9,210.6 L322.5,210.6 L323.2,210.6 L323.8,210.6 L324.4,210.6 L325.1,210.6 L325.7,210.6 L326.3,210.6 L327.0,210.6 L327.6,210.6 L328.2,210.6 L328.9,210.6 L329.5,210.6" fill="none" stroke="#ffa500" stroke-width="2.8" stroke-linecap="round"/>
<path d="M47.4,35.9L48.8,34.5L50.3,35.9L48.8,37.4ZM55.0,38.5L56.5,37.1L58.0,38.5L56.5,40.0ZM57.3,39.3L58.7,37.9L60.2,39.3L58.7,40.8ZM63.3,41.7L64.8,40.2L66.2,41.7L64.8,43.1ZM71.6,45.2L73.0,43.7L74.5,45.2L73.0,46.6ZM77.1,47.7L78.5,46.3L80.0,47.7L78.5,49.2ZM80.7,49.5L82.2,48.1L83.6,49.5L82.2,51.0ZM82.9,50.7L84.4,49.2L85.8,50.7L84.4,52.1ZM86.1,52.3L87.5,50.9L89.0,52.3L87.5,53.8ZM89.9,54.4L91.3,53.0L92.8,54.4L91.3,55.9ZM93.3,56.4L94.8,55.0L96.2,56.4L94.8,57.9ZM96.5,58.3L97.9,56.9L99.4,58.3L97.9,59.8ZM98.7,59.7L100.1,58.2L101.6,59.7L100.1,61.1ZM102.7,62.3L104.2,60.8L105.6,62.3L104.2,63.7ZM104.6,63.5L106.0,62.1L107.5,63.5L106.0,65.0ZM106.3,64.7L107.8,63.3L109.2,64.7L107.8,66.2ZM108.6,66.3L110.0,64.8L111.5,66.3L110.0,67.7ZM110.7,67.8L112.2,66.4L113.6,67.8L112.2,69.3ZM114.6,70.7L116.1,69.2L117.5,70.7L116.1,72.1ZM116.9,72.4L118.3,70.9L119.8,72.4L118.3,73.8ZM118.6,73.7L120.0,72.2L121.5,73.7L120.0,75.1ZM121.7,76.2L123.2,74.8L124.6,76.2L123.2,77.7ZM122.9,77.1L124.3,75.7L125.8,77.1L124.3,78.6ZM124.3,78.3L125.8,76.9L127.2,78.3L125.8,79.8ZM126.1,79.8L127.5,78.3L129.0,79.8L127.5,81.2ZM127.4,80.9L128.8,79.5L130.3,80.9L128.8,82.4ZM128.7,82.0L130.1,80.6L131.6,82.0L130.1,83.5ZM129.9,83.1L131.4,81.6L132.8,83.1L131.4,84.5ZM131.1,84.1L132.6,82.7L134.0,84.1L132.6,85.6ZM132.6,85.4L134.0,84.0L135.5,85.4L134.0,86.9ZM134.2,86.9L135.7,85.5L137.1,86.9L135.7,88.4ZM136.4,88.9L137.8,87.4L139.3,88.9L137.8,90.3ZM137.6,90.0L139.1,88.6L140.5,90.0L139.1,91.5ZM139.6,91.8L141.0,90.4L142.5,91.8L141.0,93.3ZM140.7,92.9L142.2,91.5L143.6,92.9L142.2,94.4ZM142.3,94.4L143.7,93.0L145.2,94.4L143.7,95.9ZM144.2,96.3L145.7,94.9L147.1,96.3L145.7,97.8ZM145.6,97.7L147.1,96.3L148.5,97.7L147.1,99.2ZM147.2,99.3L148.6,97.8L150.1,99.3L148.6,100.7ZM148.5,100.6L150.0,99.1L151.4,100.6L150.0,102.0ZM149.4,101.5L150.9,100.1L152.3,101.5L150.9,103.0ZM150.7,102.8L152.1,101.3L153.6,102.8L152.1,104.2ZM151.7,103.9L153.2,102.4L154.6,103.9L153.2,105.3ZM152.9,105.1L154.3,103.6L155.8,105.1L154.3,106.5ZM154.0,106.2L155.5,104.8L156.9,106.2L155.5,107.7ZM155.4,107.7L156.9,106.3L158.3,107.7L156.9,109.2ZM156.8,109.1L158.2,107.7L159.7,109.1L158.2,110.6ZM157.7,110.1L159.1,108.6L160.5,110.1L159.1,111.5ZM158.9,111.4L160.4,110.0L161.8,111.4L160.4,112.9ZM159.9,112.5L161.3,111.0L162.8,112.5L161.3,113.9ZM161.1,113.8L162.5,112.3L164.0,113.8L162.5,115.2ZM162.0,114.8L163.5,113.3L164.9,114.8L163.5,116.2ZM163.0,115.9L164.5,114.4L165.9,115.9L164.5,117.3ZM164.1,117.1L165.6,115.6L167.0,117.1L165.6,118.5ZM165.1,118.1L166.5,116.7L168.0,118.1L166.5,119.6ZM165.9,119.1L167.4,117.6L168.8,119.1L167.4,120.5ZM166.8,120.1L168.3,118.6L169.7,120.1L168.3,121.5ZM167.8,121.2L169.3,119.7L170.7,121.2L169.3,122.6ZM168.8,122.3L170.2,120.8L171.7,122.3L170.2,123.7ZM169.9,123.4L171.3,122.0L172.8,123.4L171.3,124.9ZM170.8,124.5L172.2,123.0L173.7,124.5L172.2,125.9ZM171.6,125.4L173.0,123.9L174.5,125.4L173.0,126.8ZM172.8,126.8L174.3,125.4L175.7,126.8L174.3,128.3ZM173.9,128.0L175.3,126.5L176.8,128.0L175.3,129.4ZM175.0,129.2L176.4,127.8L177.9,129.2L176.4,130.7ZM176.1,130.5L177.5,129.0L179.0,130.5L177.5,131.9ZM177.1,131.6L178.5,130.2L180.0,131.6L178.5,133.1ZM178.1,132.8L179.6,131.3L181.0,132.8L179.6,134.2ZM179.1,133.9L180.5,132.5L182.0,133.9L180.5,135.4ZM180.0,134.9L181.4,133.5L182.9,134.9L181.4,136.4ZM181.0,136.1L182.4,134.6L183.9,136.1L182.4,137.5ZM181.9,137.1L183.4,135.7L184.8,137.1L183.4,138.6ZM182.8,138.1L184.2,136.7L185.7,138.1L184.2,139.6ZM183.9,139.4L185.3,137.9L186.8,139.4L185.3,140.8ZM184.8,140.4L186.2,139.0L187.7,140.4L186.2,141.9ZM185.6,141.4L187.1,139.9L188.5,141.4L187.1,142.8ZM186.4,142.3L187.9,140.8L189.3,142.3L187.9,143.7ZM187.7,143.7L189.1,142.2L190.6,143.7L189.1,145.1ZM188.7,144.9L190.1,143.4L191.6,144.9L190.1,146.3ZM189.5,145.8L190.9,144.3L192.4,145.8L190.9,147.2ZM190.7,147.1L192.1,145.7L193.6,147.1L192.1,148.6ZM191.6,148.1L193.0,146.7L194.5,148.1L193.0,149.6ZM192.5,149.2L193.9,147.7L195.4,149.2L193.9,150.6ZM193.4,150.2L194.9,148.8L196.3,150.2L194.9,151.7ZM194.3,151.2L195.7,149.8L197.2,151.2L195.7,152.7ZM195.2,152.2L196.6,150.8L198.1,152.2L196.6,153.7ZM196.0,153.1L197.5,151.7L198.9,153.1L197.5,154.6ZM196.8,154.1L198.3,152.6L199.7,154.1L198.3,155.5ZM197.8,155.1L199.2,153.6L200.7,155.1L199.2,156.5ZM198.7,156.1L200.1,154.7L201.6,156.1L200.1,157.6ZM199.5,157.0L200.9,155.6L202.4,157.0L200.9,158.5ZM200.6,158.3L202.1,156.8L203.5,158.3L202.1,159.7ZM201.7,159.4L203.1,157.9L204.6,159.4L203.1,160.8ZM202.7,160.5L204.2,159.1L205.6,160.5L204.2,162.0ZM203.5,161.4L205.0,159.9L206.4,161.4L205.0,162.8ZM204.3,162.3L205.8,160.8L207.2,162.3L205.8,163.7ZM205.2,163.2L206.6,161.7L208.1,163.2L206.6,164.6ZM206.1,164.2L207.6,162.7L209.0,164.2L207.6,165.6ZM206.9,165.0L208.4,163.6L209.8,165.0L208.4,166.5ZM208.0,166.1L209.4,164.7L210.9,166.1L209.4,167.6ZM208.8,167.0L210.3,165.6L211.7,167.0L210.3,168.5ZM209.7,167.9L211.1,166.4L212.6,167.9L211.1,169.3ZM210.5,168.8L212.0,167.3L213.4,168.8L212.0,170.2ZM211.4,169.6L212.8,168.2L214.3,169.6L212.8,171.1ZM212.2,170.4L213.6,169.0L215.1,170.4L213.6,171.9ZM213.1,171.4L214.5,169.9L216.0,171.4L214.5,172.8ZM213.9,172.2L215.4,170.8L216.8,172.2L215.4,173.7ZM214.9,173.1L216.3,171.7L217.8,173.1L216.3,174.6ZM215.7,173.9L217.2,172.5L218.6,173.9L217.2,175.4ZM216.5,174.7L218.0,173.3L219.4,174.7L218.0,176.2ZM217.4,175.5L218.8,174.1L220.3,175.5L218.8,177.0ZM218.2,176.3L219.6,174.9L221.1,176.3L219.6,177.8ZM219.0,177.1L220.5,175.7L221.9,177.1L220.5,178.6ZM219.9,177.9L221.4,176.5L222.8,177.9L221.4,179.4ZM220.8,178.7L222.2,177.3L223.7,178.7L222.2,180.2ZM221.6,179.5L223.0,178.0L224.5,179.5L223.0,180.9ZM222.5,180.3L223.9,178.8L225.4,180.3L223.9,181.7ZM223.4,181.1L224.8,179.6L226.3,181.1L224.8,182.5ZM224.3,181.9L225.7,180.4L227.2,181.9L225.7,183.3ZM225.1,182.6L226.6,181.2L228.0,182.6L226.6,184.1ZM225.9,183.3L227.4,181.8L228.8,183.3L227.4,184.7ZM226.8,184.0L228.2,182.6L229.7,184.0L228.2,185.5ZM227.6,184.7L229.1,183.3L230.5,184.7L229.1,186.2ZM228.5,185.5L230.0,184.0L231.4,185.5L230.0,186.9ZM229.3,186.1L230.8,184.7L232.2,186.1L230.8,187.6ZM230.2,186.8L231.6,185.4L233.1,186.8L231.6,188.3ZM231.0,187.4L232.4,186.0L233.9,187.4L232.4,188.9ZM231.8,188.1L233.3,186.7L234.7,188.1L233.3,189.6ZM232.7,188.8L234.1,187.3L235.6,188.8L234.1,190.2ZM233.5,189.4L235.0,187.9L236.4,189.4L235.0,190.8ZM234.3,190.0L235.8,188.5L237.2,190.0L235.8,191.4ZM235.2,190.6L236.6,189.1L238.1,190.6L236.6,192.0ZM236.0,191.2L237.5,189.8L238.9,191.2L237.5,192.7ZM236.8,191.8L238.3,190.3L239.7,191.8L238.3,193.2ZM237.7,192.4L239.1,190.9L240.6,192.4L239.1,193.8ZM238.5,192.9L240.0,191.5L241.4,192.9L240.0,194.4ZM239.4,193.5L240.8,192.0L242.3,193.5L240.8,194.9ZM240.2,194.0L241.6,192.6L243.1,194.0L241.6,195.5ZM241.0,194.5L242.4,193.1L243.9,194.5L242.4,196.0ZM241.9,195.1L243.3,193.7L244.8,195.1L243.3,196.6ZM242.7,195.6L244.1,194.2L245.6,195.6L244.1,197.1ZM243.5,196.1L245.0,194.6L246.4,196.1L245.0,197.5ZM244.3,196.6L245.8,195.1L247.2,196.6L245.8,198.0ZM245.2,197.1L246.6,195.6L248.1,197.1L246.6,198.5ZM246.0,197.5L247.4,196.1L248.9,197.5L247.4,199.0ZM246.8,198.0L248.3,196.5L249.7,198.0L248.3,199.4ZM247.7,198.5L249.1,197.0L250.6,198.5L249.1,199.9ZM248.5,198.9L249.9,197.4L251.4,198.9L249.9,200.3ZM249.3,199.3L250.8,197.9L252.2,199.3L250.8,200.8ZM250.2,199.8L251.6,198.3L253.1,199.8L251.6,201.2ZM251.0,200.2L252.5,198.7L253.9,200.2L252.5,201.6ZM251.9,200.6L253.3,199.1L254.8,200.6L253.3,202.0ZM252.7,200.9L254.1,199.5L255.6,200.9L254.1,202.4ZM253.5,201.3L254.9,199.9L256.4,201.3L254.9,202.8ZM254.3,201.7L255.8,200.2L257.2,201.7L255.8,203.1ZM255.2,202.1L256.6,200.6L258.1,202.1L256.6,203.5ZM256.0,202.4L257.5,201.0L258.9,202.4L257.5,203.9ZM256.8,202.7L258.3,201.3L259.7,202.7L258.3,204.2ZM257.6,203.0L259.1,201.6L260.5,203.0L259.1,204.5ZM258.5,203.4L259.9,201.9L261.4,203.4L259.9,204.8ZM259.3,203.7L260.8,202.2L262.2,203.7L260.8,205.1ZM260.1,204.0L261.6,202.5L263.0,204.0L261.6,205.4ZM261.0,204.3L262.4,202.8L263.9,204.3L262.4,205.7ZM261.8,204.6L263.3,203.1L264.7,204.6L263.3,206.0ZM262.6,204.8L264.1,203.4L265.5,204.8L264.1,206.3ZM263.5,205.1L264.9,203.6L266.4,205.1L264.9,206.5ZM264.3,205.3L265.8,203.9L267.2,205.3L265.8,206.8ZM265.1,205.6L266.6,204.1L268.0,205.6L266.6,207.0ZM265.9,205.8L267.4,204.4L268.8,205.8L267.4,207.3ZM266.7,206.0L268.2,204.6L269.6,206.0L268.2,207.5ZM267.6,206.3L269.0,204.8L270.5,206.3L269.0,207.7ZM268.4,206.5L269.8,205.0L271.3,206.5L269.8,207.9ZM269.2,206.7L270.7,205.2L272.1,206.7L270.7,208.1ZM270.0,206.9L271.5,205.4L272.9,206.9L271.5,208.3ZM270.8,207.1L272.3,205.6L273.7,207.1L272.3,208.5ZM271.6,207.2L273.1,205.8L274.5,207.2L273.1,208.7ZM272.4,207.4L273.9,206.0L275.3,207.4L273.9,208.9ZM273.2,207.6L274.7,206.1L276.1,207.6L274.7,209.0ZM274.1,207.7L275.5,206.3L277.0,207.7L275.5,209.2ZM274.9,207.9L276.3,206.4L277.8,207.9L276.3,209.3ZM275.7,208.0L277.1,206.6L278.6,208.0L277.1,209.5ZM276.5,208.2L277.9,206.7L279.4,208.2L277.9,209.6ZM277.3,208.3L278.8,206.9L280.2,208.3L278.8,209.8ZM278.1,208.4L279.6,207.0L281.0,208.4L279.6,209.9ZM278.9,208.6L280.4,207.1L281.8,208.6L280.4,210.0ZM279.8,208.7L281.2,207.2L282.7,208.7L281.2,210.1ZM280.6,208.8L282.0,207.3L283.5,208.8L282.0,210.2ZM281.4,208.9L282.8,207.4L284.3,208.9L282.8,210.3ZM282.2,209.0L283.6,207.5L285.1,209.0L283.6,210.4ZM283.0,209.1L284.5,207.6L285.9,209.1L284.5,210.5ZM283.8,209.2L285.3,207.7L286.7,209.2L285.3,210.6ZM284.7,209.3L286.1,207.8L287.6,209.3L286.1,210.7ZM285.5,209.4L286.9,207.9L288.4,209.4L286.9,210.8ZM286.3,209.4L287.7,208.0L289.2,209.4L287.7,210.9ZM287.1,209.5L288.5,208.1L290.0,209.5L288.5,211.0ZM287.9,209.6L289.3,208.1L290.8,209.6L289.3,211.0ZM288.7,209.6L290.1,208.2L291.6,209.6L290.1,211.1ZM289.5,209.7L290.9,208.3L292.4,209.7L290.9,211.2ZM290.3,209.8L291.8,208.3L293.2,209.8L291.8,211.2ZM291.1,209.8L292.6,208.4L294.0,209.8L292.6,211.3ZM292.0,209.9L293.4,208.4L294.9,209.9L293.4,211.3ZM292.8,209.9L294.2,208.5L295.7,209.9L294.2,211.4ZM293.6,210.0L295.0,208.5L296.5,210.0L295.0,211.4ZM294.4,210.0L295.8,208.6L297.3,210.0L295.8,211.5ZM295.2,210.1L296.6,208.6L298.1,210.1L296.6,211.5ZM296.0,210.1L297.5,208.6L298.9,210.1L297.5,211.5ZM296.8,210.1L298.3,208.7L299.7,210.1L298.3,211.6ZM297.6,210.2L299.1,208.7L300.5,210.2L299.1,211.6ZM298.4,210.2L299.9,208.8L301.3,210.2L299.9,211.7ZM299.2,210.2L300.7,208.8L302.1,210.2L300.7,211.7ZM300.0,210.3L301.5,208.8L302.9,210.3L301.5,211.7ZM300.8,210.3L302.3,208.8L303.7,210.3L302.3,211.7ZM301.6,210.3L303.1,208.9L304.5,210.3L303.1,211.8ZM302.5,210.3L303.9,208.9L305.4,210.3L303.9,211.8ZM303.3,210.4L304.7,208.9L306.2,210.4L304.7,211.8ZM304.1,210.4L305.5,208.9L307.0,210.4L305.5,211.8ZM304.9,210.4L306.3,208.9L307.8,210.4L306.3,211.8ZM305.7,210.4L307.2,209.0L308.6,210.4L307.2,211.9ZM306.5,210.4L308.0,209.0L309.4,210.4L308.0,211.9ZM307.3,210.4L308.8,209.0L310.2,210.4L308.8,211.9ZM308.1,210.5L309.6,209.0L311.0,210.5L309.6,211.9ZM309.0,210.5L310.4,209.0L311.9,210.5L310.4,211.9ZM309.8,210.5L311.2,209.0L312.7,210.5L311.2,211.9ZM310.6,210.5L312.0,209.0L313.5,210.5L312.0,211.9ZM311.4,210.5L312.8,209.0L314.3,210.5L312.8,211.9ZM312.2,210.5L313.7,209.1L315.1,210.5L313.7,212.0ZM313.0,210.5L314.5,209.1L315.9,210.5L314.5,212.0ZM313.8,210.5L315.3,209.1L316.7,210.5L315.3,212.0ZM314.6,210.5L316.1,209.1L317.5,210.5L316.1,212.0ZM315.4,210.5L316.9,209.1L318.3,210.5L316.9,212.0ZM316.2,210.5L317.7,209.1L319.1,210.5L317.7,212.0ZM317.0,210.5L318.5,209.1L319.9,210.5L318.5,212.0ZM317.8,210.6L319.3,209.1L320.7,210.6L319.3,212.0ZM318.6,210.6L320.1,209.1L321.5,210.6L320.1,212.0ZM319.4,210.6L320.9,209.1L322.3,210.6L320.9,212.0ZM320.2,210.6L321.7,209.1L323.1,210.6L321.7,212.0ZM321.0,210.6L322.5,209.1L323.9,210.6L322.5,212.0ZM321.9,210.6L323.3,209.1L324.8,210.6L323.3,212.0ZM322.7,210.6L324.1,209.1L325.6,210.6L324.1,212.0ZM323.5,210.6L324.9,209.1L326.4,210.6L324.9,212.0ZM324.3,210.6L325.7,209.1L327.2,210.6L325.7,212.0ZM325.1,210.6L326.5,209.1L328.0,210.6L326.5,212.0ZM325.9,210.6L327.3,209.1L328.8,210.6L327.3,212.0ZM326.7,210.6L328.1,209.1L329.6,210.6L328.1,212.0ZM327.5,210.6L328.9,209.1L330.4,210.6L328.9,212.0ZM328.1,210.6L329.5,209.1L331.0,210.6L329.5,212.0Z" fill="#ffa500"/>
<rect x="42.4" y="0.6" width="287.1" height="211.9" fill="none" stroke="#222" stroke-width="0.9"/>
<path d="M56.5,212.5v-5.9M56.5,0.6v5.9M107.8,212.5v-5.9M107.8,0.6v5.9M159.1,212.5v-5.9M159.1,0.6v5.9M210.4,212.5v-5.9M210.4,0.6v5.9M261.7,212.5v-5.9M261.7,0.6v5.9M313.0,212.5v-5.9M313.0,0.6v5.9M86.5,212.5v-2.9M86.5,0.6v2.9M124.3,212.5v-2.9M124.3,0.6v2.9M137.8,212.5v-2.9M137.8,0.6v2.9M149.2,212.5v-2.9M149.2,0.6v2.9M167.8,212.5v-2.9M167.8,0.6v2.9M175.6,212.5v-2.9M175.6,0.6v2.9M189.1,212.5v-2.9M189.1,0.6v2.9M200.5,212.5v-2.9M200.5,0.6v2.9M219.1,212.5v-2.9M219.1,0.6v2.9M226.9,212.5v-2.9M226.9,0.6v2.9M240.4,212.5v-2.9M240.4,0.6v2.9M251.8,212.5v-2.9M251.8,0.6v2.9M270.4,212.5v-2.9M270.4,0.6v2.9M278.2,212.5v-2.9M278.2,0.6v2.9M285.3,212.5v-2.9M285.3,0.6v2.9M291.7,212.5v-2.9M291.7,0.6v2.9M297.6,212.5v-2.9M297.6,0.6v2.9M303.1,212.5v-2.9M303.1,0.6v2.9M308.2,212.5v-2.9M308.2,0.6v2.9M321.7,212.5v-2.9M321.7,0.6v2.9M42.4,212.3h5.9M329.5,212.3h-5.9M42.4,193.1h2.9M329.5,193.1h-2.9M42.4,173.8h5.9M329.5,173.8h-5.9M42.4,154.6h2.9M329.5,154.6h-2.9M42.4,135.4h5.9M329.5,135.4h-5.9M42.4,116.2h2.9M329.5,116.2h-2.9M42.4,96.9h5.9M329.5,96.9h-5.9M42.4,77.7h2.9M329.5,77.7h-2.9M42.4,58.5h5.9M329.5,58.5h-5.9M42.4,39.2h2.9M329.5,39.2h-2.9M42.4,20.0h5.9M329.5,20.0h-5.9" fill="none" stroke="#222" stroke-width="0.8"/>
<text transform="translate(56.9,227.4) scale(1,1.07)" font-size="17.2" text-anchor="middle">4</text>
<text transform="translate(108.2,227.4) scale(1,1.07)" font-size="17.2" text-anchor="middle">8</text>
<text transform="translate(159.5,227.4) scale(1,1.07)" font-size="17.2" text-anchor="middle">16</text>
<text transform="translate(210.8,227.4) scale(1,1.07)" font-size="17.2" text-anchor="middle">32</text>
<text transform="translate(262.1,227.4) scale(1,1.07)" font-size="17.2" text-anchor="middle">64</text>
<text transform="translate(313.4,227.4) scale(1,1.07)" font-size="17.2" text-anchor="middle">128</text>
<text transform="translate(40.0,218.7) scale(1,1.08)" font-size="17.2" text-anchor="end">0</text>
<text transform="translate(40.0,180.2) scale(1,1.08)" font-size="17.2" text-anchor="end">0.2</text>
<text transform="translate(40.0,141.8) scale(1,1.08)" font-size="17.2" text-anchor="end">0.4</text>
<text transform="translate(40.0,103.3) scale(1,1.08)" font-size="17.2" text-anchor="end">0.6</text>
<text transform="translate(40.0,64.9) scale(1,1.08)" font-size="17.2" text-anchor="end">0.8</text>
<text transform="translate(40.0,26.4) scale(1,1.08)" font-size="17.2" text-anchor="end">1</text>
<text transform="translate(185.8,241.9) scale(1,1.1)" font-size="16.4" text-anchor="middle">r/a</text>
<text transform="translate(12.1,106.6) rotate(-90)" text-anchor="middle">C(r)</text>
<text transform="translate(258.4,30.9) scale(1,1.04)" font-size="16.75" text-anchor="start">y = 0</text>
<text transform="translate(258.4,49.0) scale(1,1.04)" font-size="16.75" text-anchor="start">y = 1.30</text>
<text transform="translate(258.4,67.1) scale(1,1.04)" font-size="16.75" text-anchor="start">y = 2.59</text>
<text transform="translate(258.4,85.2) scale(1,1.04)" font-size="16.75" text-anchor="start">y = 3.89</text>
<text transform="translate(258.4,103.3) scale(1,1.04)" font-size="16.75" text-anchor="start">y = 5.18</text>
<path d="M227.2,26.5H251.9" stroke="#000" stroke-width="1.25"/>
<path d="M227.2,44.6H251.9" stroke="#f00" stroke-width="1.2" stroke-dasharray="4.7 2.7" stroke-dashoffset="0.4"/>
<circle cx="239.7" cy="62.8" r="1.5" fill="none" stroke="#008000" stroke-width="0.9"/>
<path d="M227.15,80.9H252" stroke="#00f" stroke-width="2.1" stroke-dasharray="2.1 5.25"/>
<path d="M238.15,99.1L239.6,97.6L241.04999999999998,99.1L239.6,100.5Z" fill="#ffa500"/>
</svg></body></html>
